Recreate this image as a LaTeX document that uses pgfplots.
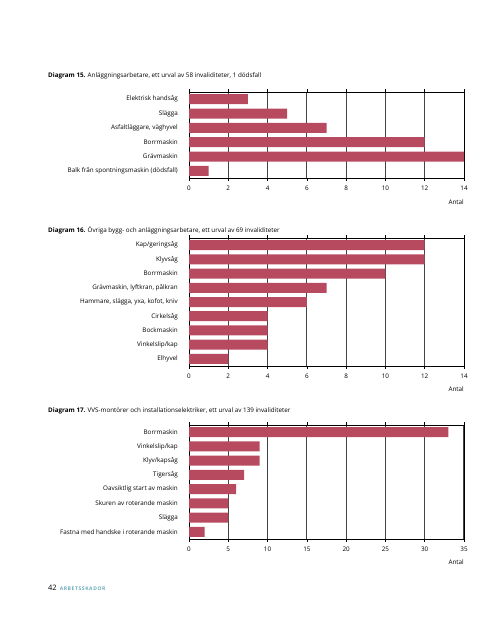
\documentclass[border=0pt]{standalone}
\usepackage{pgfplots}
\pgfplotsset{compat=1.18}
\usepackage{fontspec}
\setmainfont{Open Sans}
\definecolor{barc}{HTML}{B84A5F}
\definecolor{gridc}{HTML}{444444}
\definecolor{footc}{HTML}{6AAAB8}
\newcommand{\lf}{\fontsize{6.3}{7}\selectfont}
\pgfplotsset{
  mybar/.style={
    xbar, scale only axis, width=275pt,
    xmin=0, xmax=#1, y dir=reverse,
    bar width=10pt, bar shift=0pt,
    axis line style={black, line width=0.7pt},
    xmajorgrids, major grid style={gridc, line width=1pt},
    tick align=outside, tick style={black, line width=0.6pt},
    major tick length=3pt,
    ytick=data, ymajorticks=true,
    y tick style={draw=none},
    minor tick length=3pt,
    minor y tick style={black, line width=0.7pt},
    tick label style={font=\lf, inner sep=0pt},
    yticklabel style={xshift=-8pt},
    xticklabel style={yshift=-5pt},
    /pgf/number format/assume math mode=true,
    enlarge y limits=false,
    anchor=north west,
    clip=false,
  }
}
\begin{document}
\begin{tikzpicture}[x=1pt,y=1pt]
\path[use as bounding box] (0,0) rectangle (500,-619);
% Diagram 15
\node[anchor=base west, inner sep=0pt, font=\lf] at (48,-77) {\textbf{Diagram 15.} Anläggningsarbetare, ett urval av 58 invaliditeter, 1 dödsfall};
\begin{axis}[mybar=14, at={(189pt,-92pt)}, height=86pt,
  ymin=-0.5, ymax=5.5, xtick distance=2,
  minor ytick={-0.5,0.5,...,5.5},
  yticklabels={Elektrisk handsåg, Slägga, {Asfaltläggare, väghyvel}, Borrmaskin, Grävmaskin, Balk från spontningsmaskin (dödsfall)}]
\addplot[fill=barc, draw=none] coordinates {(3,0) (5,1) (7,2) (12,3) (14,4) (1,5)};
\node[anchor=base east, inner sep=0pt, font=\lf] at (rel axis cs:1,0) [yshift=-26pt] {Antal};
\end{axis}
% Diagram 16
\node[anchor=base west, inner sep=0pt, font=\lf] at (48,-232) {\textbf{Diagram 16.} Övriga bygg- och anläggningsarbetare, ett urval av 69 invaliditeter};
\begin{axis}[mybar=14, at={(189pt,-238pt)}, height=128pt,
  ymin=-0.5, ymax=8.5, xtick distance=2,
  minor ytick={-0.5,0.5,...,8.5},
  yticklabels={Kap/geringsåg, Klyvsåg, Borrmaskin, {Grävmaskin, lyftkran, pålkran}, {Hammare, slägga, yxa, kofot, kniv}, Cirkelsåg, Bockmaskin, Vinkelslip/kap, Elhyvel}]
\addplot[fill=barc, draw=none] coordinates {(12,0) (12,1) (10,2) (7,3) (6,4) (4,5) (4,6) (4,7) (2,8)};
\node[anchor=base east, inner sep=0pt, font=\lf] at (rel axis cs:1,0) [yshift=-26pt] {Antal};
\end{axis}
% Diagram 17
\node[anchor=base west, inner sep=0pt, font=\lf] at (48,-412) {\textbf{Diagram 17.} VVS-montörer och installationselektriker, ett urval av 139 invaliditeter};
\begin{axis}[mybar=35, at={(189pt,-425pt)}, height=114pt,
  ymin=-0.5, ymax=7.5, xtick distance=5,
  minor ytick={-0.5,0.5,...,7.5},
  yticklabels={Borrmaskin, Vinkelslip/kap, Klyv/kapsåg, Tigersåg, Oavsiktlig start av maskin, Skuren av roterande maskin, Slägga, Fastna med handske i roterande maskin}]
\addplot[fill=barc, draw=none] coordinates {(33,0) (9,1) (9,2) (7,3) (6,4) (5,5) (5,6) (2,7)};
\node[anchor=base east, inner sep=0pt, font=\lf] at (rel axis cs:1,0) [yshift=-26pt] {Antal};
\end{axis}
% footer
\node[anchor=base west, inner sep=0pt] at (48,-590) {{\fontsize{7.5}{8}\selectfont 42}\hspace{3pt}{\fontsize{5}{6}\selectfont\bfseries\color{footc}\addfontfeatures{LetterSpace=12}ARBETSSKADOR}};
\end{tikzpicture}
\end{document}
